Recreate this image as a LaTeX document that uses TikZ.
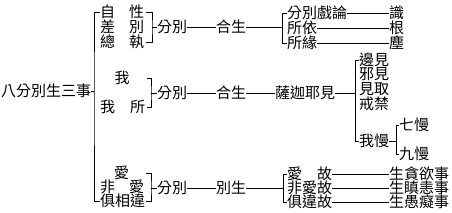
\documentclass[tikz,border=0pt]{standalone}
\usepackage{fontspec}
\newfontfamily\cjk{Noto Sans CJK TC}
\begin{document}
\begin{tikzpicture}[x=1pt,y=-1pt,
  t/.style={anchor=west,inner sep=0pt,font=\cjk\fontsize{15}{15}\selectfont},
  ln/.style={line width=0.9pt,black}]
\useasboundingbox (0,0) rectangle (452,213);
\fill[white] (0,0) rectangle (452,213);
% root and spine
\node[t] (root) at (1,91) {八分別生三事};
\coordinate (sp) at (94,91);
\draw[ln] (root.east) -- (sp);
% group 1
\node[t] (zi) at (100,12) {自};
\node[t] (cha) at (100,27) {差};
\node[t] (zong) at (100,42) {總};
\node[t] (xing) at (129,12) {性};
\node[t] (bie) at (129,27) {別};
\node[t] (zhi) at (129,42) {執};
% group 3 left
\node[t] (ai1) at (114,173) {愛};
\node[t] (fei) at (100,187) {非};
\node[t] (ai2) at (129,187) {愛};
\node[t] (jxw) at (100,201) {俱相違};
\draw[ln] (zi.west) -| (sp) |- (jxw.west);
\coordinate (b1) at (152,27);
\draw[ln] ([xshift=2]xing.east) -| (b1) |- ([xshift=2]zhi.east);
\node[t] (fb1) at (157,27) {分別};
\draw[ln] (b1) -- (fb1.west);
\node[t] (hs1) at (216,27) {合生};
\draw[ln] (fb1.east) -- (hs1.west);
\node[t] (fx) at (287,13) {分別戲論};
\node[t] (suoyi) at (287,28) {所依};
\node[t] (suoyuan) at (287,43) {所緣};
\coordinate (b2) at ([xshift=-5]fx.west);
\draw[ln] (fx.west) -| ([xshift=-5]suoyuan.west) -- (suoyuan.west);
\draw[ln] (hs1.east) -- (hs1.east -| b2);
\node[t] (shi) at (389,13) {識};
\node[t] (gen) at (389,28) {根};
\node[t] (chen) at (389,43) {塵};
\draw[ln] (fx.east) -- (shi.west);
\draw[ln] (suoyi.east) -- (gen.west);
\draw[ln] (suoyuan.east) -- (chen.west);
% group 2
\node[t] (wo1) at (114.5,78) {我};
\node[t] (wo2) at (100,107) {我};
\node[t] (suo) at (130,107) {所};
\coordinate (b3) at (151,93);
\draw[ln] ([xshift=2]wo1.east -| suo.east) -| (b3) |- ([xshift=2]suo.east);
\node[t] (fb2) at (157,93) {分別};
\draw[ln] (b3) -- (fb2.west);
\node[t] (hs2) at (216,93) {合生};
\draw[ln] (fb2.east) -- (hs2.west);
\node[t] (sa) at (275,93) {薩迦耶見};
\draw[ln] (hs2.east) -- (sa.west);
\node[t] (bian) at (359,60) {邊見};
\node[t] (xie) at (359,74) {邪見};
\node[t] (jq) at (359,89) {見取};
\node[t] (jj) at (359,104) {戒禁};
\node[t] (woman) at (359,141) {我慢};
\coordinate (b4) at ([xshift=-4]bian.west);
\draw[ln] (bian.west) -| ([xshift=-4]woman.west) -- (woman.west);
\draw[ln] (sa.east) -- (sa.east -| b4);
\node[t] (qi) at (399,125) {七慢};
\node[t] (jiu) at (399,154) {九慢};
\draw[ln] (qi.west) -| ([xshift=-3]jiu.west) -- (jiu.west);
\draw[ln] (woman.east) -- ([xshift=-3]qi.west |- woman.east);
% group 3
\coordinate (b5) at (151,188);
\draw[ln] ([xshift=2]ai1.east -| ai2.east) -| (b5) |- ([xshift=2]ai2.east |- jxw.east);
\node[t] (fb3) at (157,188) {分別};
\draw[ln] (b5) -- (fb3.west);
\node[t] (bs) at (216,188) {別生};
\draw[ln] (fb3.east) -- (bs.west);
\node[t] (aig) at (287,174) {愛\hspace{15pt}故};
\node[t] (faig) at (287,188) {非愛故};
\node[t] (jwg) at (287,202) {俱違故};
\coordinate (b6) at ([xshift=-4]aig.west);
\draw[ln] (aig.west) -| ([xshift=-4]jwg.west) -- (jwg.west);
\draw[ln] (bs.east) -- (bs.east -| b6);
\node[t] (s1) at (389,174) {生貪欲事};
\node[t] (s2) at (389,188) {生瞋恚事};
\node[t] (s3) at (389,202) {生愚癡事};
\draw[ln] (aig.east) -- (s1.west);
\draw[ln] (faig.east) -- (s2.west);
\draw[ln] (jwg.east) -- (s3.west);
\end{tikzpicture}
\end{document}
